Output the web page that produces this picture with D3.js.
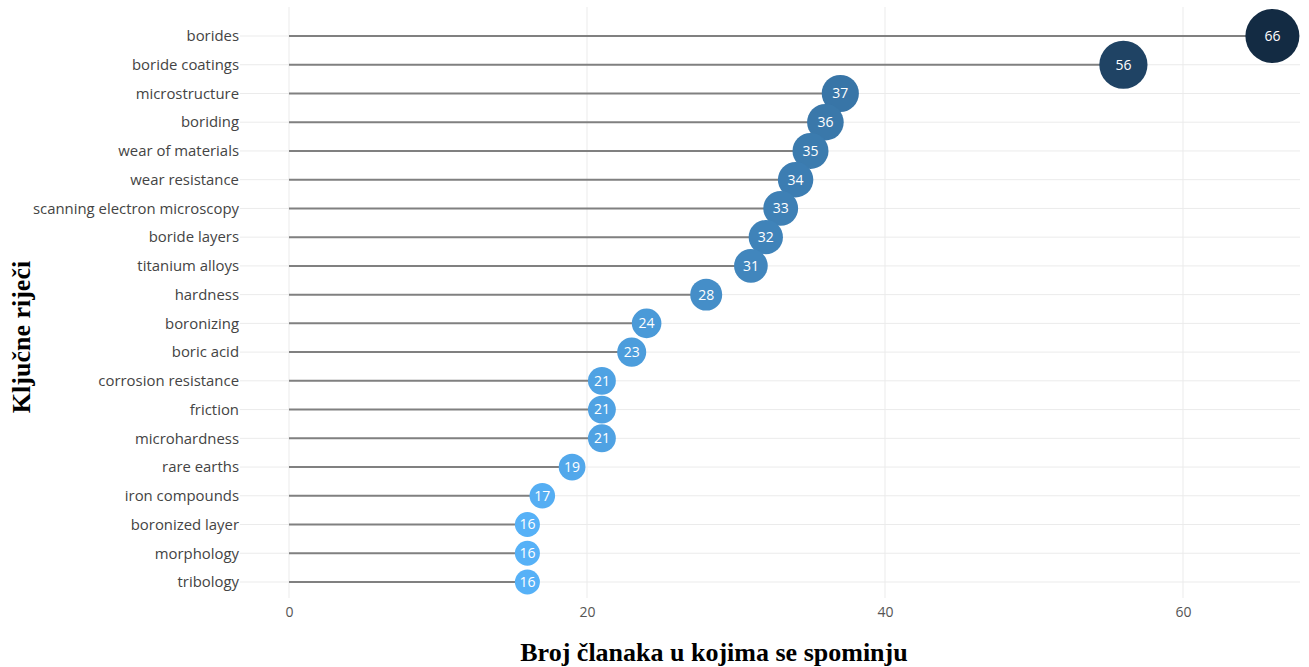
<!DOCTYPE html>
<html><head><meta charset="utf-8">
<script src="https://cdn.jsdelivr.net/npm/d3@7"></script>
<style>body{margin:0;background:#fff;}svg{display:block;}</style>
</head><body>
<svg id="c" width="1309" height="667"></svg>
<script>
const keywords = ["borides","boride coatings","microstructure","boriding","wear of materials","wear resistance","scanning electron microscopy","boride layers","titanium alloys","hardness","boronizing","boric acid","corrosion resistance","friction","microhardness","rare earths","iron compounds","boronized layer","morphology","tribology"];
const counts = [66,56,37,36,35,34,33,32,31,28,24,23,21,21,21,19,17,16,16,16];
const xTicks = [0,20,40,60];
const xTitle = "Broj članaka u kojima se spominju";
const yTitle = "Ključne riječi";

(function(){
const svg = d3.select("#c");
const pLeft = 240, pRight = 1300, pTop = 7, pBottom = 598;
const x = d3.scaleLinear().domain([0,60]).range([289,1183]);
const y = d3.scalePoint().domain(keywords).range([36,582]);
const r = d3.scaleLinear().domain([16,66]).range([12.5,27]);
const col = d3.scaleLinear().domain([16,66]).range(["#56B1F7","#132B43"]).interpolate(d3.interpolateLab);

const data = keywords.map((k,i)=>({k, v:counts[i]}));

// gridlines
svg.append("g").selectAll("line").data(keywords).join("line")
  .attr("x1",pLeft).attr("x2",pRight).attr("y1",d=>y(d)).attr("y2",d=>y(d))
  .attr("stroke","#ebebeb").attr("stroke-width",1);
svg.append("g").selectAll("line").data(xTicks).join("line")
  .attr("x1",d=>x(d)).attr("x2",d=>x(d)).attr("y1",pTop).attr("y2",pBottom)
  .attr("stroke","#ebebeb").attr("stroke-width",1);

// x axis labels
const xa = svg.append("g").attr("transform",`translate(0,${pBottom})`)
  .call(d3.axisBottom(x).tickValues(xTicks).tickSize(0).tickPadding(7));
xa.select(".domain").remove();
xa.selectAll("text").attr("font-family","'Open Sans', sans-serif").attr("font-size",14).attr("fill","#555").attr("dy","0.85em");

// y axis labels
const ya = svg.append("g").attr("transform",`translate(${pLeft},0)`)
  .call(d3.axisLeft(y).tickSize(0).tickPadding(1));
ya.select(".domain").remove();
ya.selectAll("text").attr("font-family","'Open Sans', sans-serif").attr("font-size",14.9).attr("fill","#444");

// stems
svg.append("g").selectAll("line").data(data).join("line")
  .attr("x1",x(0)).attr("x2",d=>x(d.v)).attr("y1",d=>y(d.k)).attr("y2",d=>y(d.k))
  .attr("stroke","#808080").attr("stroke-width",2);

// circles + labels (top to bottom so lower rows overlap)
const g = svg.append("g").selectAll("g").data(data).join("g")
  .attr("transform",d=>`translate(${x(d.v)},${y(d.k)})`);
g.append("circle").attr("r",d=>r(d.v)).attr("fill",d=>col(d.v));
g.append("text").text(d=>d.v).attr("text-anchor","middle").attr("dy","0.35em")
  .attr("font-family","'Open Sans', sans-serif").attr("font-size",14).attr("fill","#fff");

// titles
svg.append("text").text(xTitle).attr("x",714).attr("y",661).attr("text-anchor","middle")
  .attr("font-family","'Liberation Serif', 'Times New Roman', serif").attr("font-weight","bold").attr("font-size",26).attr("fill","#000");
svg.append("text").text(yTitle).attr("transform","translate(30,337) rotate(-90)").attr("text-anchor","middle")
  .attr("font-family","'Liberation Serif', 'Times New Roman', serif").attr("font-weight","bold").attr("font-size",26).attr("fill","#000");
})();
</script>
</body></html>
